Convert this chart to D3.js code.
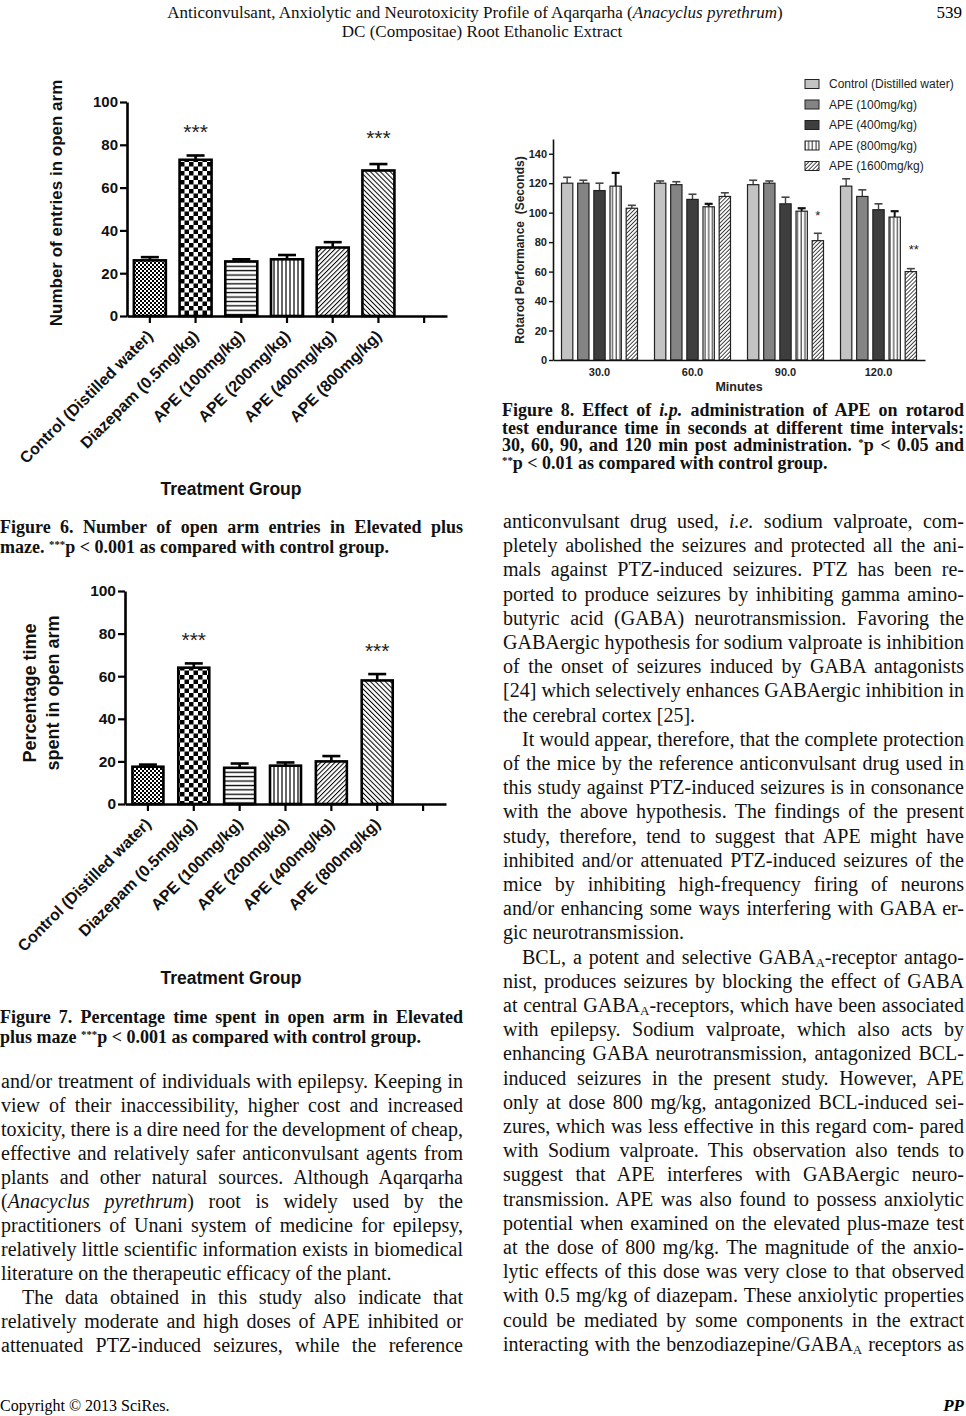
<!DOCTYPE html>
<html><head><meta charset="utf-8">
<script src="https://cdn.jsdelivr.net/npm/d3@7"></script>
<style>
html,body{margin:0;padding:0;background:#fff;}
svg{display:block;}
</style></head><body>
<svg id="page" width="966" height="1416"></svg>
<script>
// ---------------- DATA ----------------
const treatmentGroups = ["Control (Distilled water)","Diazepam (0.5mg/kg)","APE (100mg/kg)","APE (200mg/kg)","APE (400mg/kg)","APE (800mg/kg)"];
const yTicks100 = [0,20,40,60,80,100];
// Figure 6: number of open arm entries
const fig6Means = [26, 73, 25.5, 26.5, 32, 68];
const fig6Err   = [1.5, 2, 1, 2, 2.5, 3];
const fig6Stars = ["", "***", "", "", "", "***"];
const fig6StarAt = [0, 88, 0, 0, 0, 85];
// Figure 7: percentage time spent in open arm
const fig7Means = [17.5, 64, 17, 18, 20, 58];
const fig7Err   = [1, 2, 2, 1.5, 2.5, 3];
const fig7Stars = ["", "***", "", "", "", "***"];
const fig7StarAt = [0, 79, 0, 0, 0, 73.5];
// Figure 8: rotarod performance
const fig8Times  = ["30.0","60.0","90.0","120.0"];
const fig8Series = ["Control (Distilled water)","APE (100mg/kg)","APE (400mg/kg)","APE (800mg/kg)","APE (1600mg/kg)"];
const fig8Control = [120, 120, 119, 118];
const fig8APE100  = [120, 119, 120, 111];
const fig8APE400  = [115, 109, 106, 102];
const fig8APE800  = [118, 104, 101, 97];
const fig8APE1600 = [103, 111, 81, 60];
const fig8ErrControl = [4, 1.5, 3, 5];
const fig8Err100  = [2, 2, 1.5, 4.5];
const fig8Err400  = [5, 3.5, 4.5, 4];
const fig8Err800  = [9, 2, 2, 4];
const fig8Err1600 = [2, 2.5, 5, 2];
const fig8Stars = [{time:"90.0", series:4, label:"*", at:100},{time:"120.0", series:4, label:"**", at:77}];
const fig8Ticks = [0,20,40,60,80,100,120,140];

// ---------------- TEXT ----------------
const headerLines = ["Anticonvulsant, Anxiolytic and Neurotoxicity Profile of Aqarqarha (<i>Anacyclus pyrethrum</i>)","DC (Compositae) Root Ethanolic Extract"];
const pageNumber = "539";
const fig6Caption = ["Figure 6. Number of open arm entries in Elevated plus","maze. <sup>***</sup>p < 0.001 as compared with control group."];
const fig7Caption = ["Figure 7. Percentage time spent in open arm in Elevated","plus maze <sup>***</sup>p < 0.001 as compared with control group."];
const fig8Caption = ["Figure 8. Effect of <i>i.p.</i> administration of APE on rotarod","test endurance time in seconds at different time intervals:","30, 60, 90, and 120 min post administration. <sup>*</sup>p < 0.05 and","<sup>**</sup>p < 0.01 as compared with control group."];
const leftBody = [
 "and/or treatment of individuals with epilepsy. Keeping in",
 "view of their inaccessibility, higher cost and increased",
 "toxicity, there is a dire need for the development of cheap,",
 "effective and relatively safer anticonvulsant agents from",
 "plants and other natural sources. Although Aqarqarha",
 "(<i>Anacyclus pyrethrum</i>) root is widely used by the",
 "practitioners of Unani system of medicine for epilepsy,",
 "relatively little scientific information exists in biomedical",
 "literature on the therapeutic efficacy of the plant.|",
 ">The data obtained in this study also indicate that",
 "relatively moderate and high doses of APE inhibited or",
 "attenuated PTZ-induced seizures, while the reference"];
const rightBody = [
 "anticonvulsant drug used, <i>i.e.</i> sodium valproate, com-",
 "pletely abolished the seizures and protected all the ani-",
 "mals against PTZ-induced seizures. PTZ has been re-",
 "ported to produce seizures by inhibiting gamma amino-",
 "butyric acid (GABA) neurotransmission. Favoring the",
 "GABAergic hypothesis for sodium valproate is inhibition",
 "of the onset of seizures induced by GABA antagonists",
 "[24] which selectively enhances GABAergic inhibition in",
 "the cerebral cortex [25].|",
 ">It would appear, therefore, that the complete protection",
 "of the mice by the reference anticonvulsant drug used in",
 "this study against PTZ-induced seizures is in consonance",
 "with the above hypothesis. The findings of the present",
 "study, therefore, tend to suggest that APE might have",
 "inhibited and/or attenuated PTZ-induced seizures of the",
 "mice by inhibiting high-frequency firing of neurons",
 "and/or enhancing some ways interfering with GABA er-",
 "gic neurotransmission.|",
 ">BCL, a potent and selective GABA<sub>A</sub>-receptor antago-",
 "nist, produces seizures by blocking the effect of GABA",
 "at central GABA<sub>A</sub>-receptors, which have been associated",
 "with epilepsy. Sodium valproate, which also acts by",
 "enhancing GABA neurotransmission, antagonized BCL-",
 "induced seizures in the present study. However, APE",
 "only at dose 800 mg/kg, antagonized BCL-induced sei-",
 "zures, which was less effective in this regard com- pared",
 "with Sodium valproate. This observation also tends to",
 "suggest that APE interferes with GABAergic neuro-",
 "transmission. APE was also found to possess anxiolytic",
 "potential when examined on the elevated plus-maze test",
 "at the dose of 800 mg/kg. The magnitude of the anxio-",
 "lytic effects of this dose was very close to that observed",
 "with 0.5 mg/kg of diazepam. These anxiolytic properties",
 "could be mediated by some components in the extract",
 "interacting with the benzodiazepine/GABA<sub>A</sub> receptors as"];
const footerLeft = "Copyright © 2013 SciRes.";
const footerRight = "PP";

// ---------------- HELPERS ----------------
const SANS = "'Liberation Sans', Arial, sans-serif";
const SERIF = "'Liberation Serif', 'Times New Roman', serif";
const svg = d3.select("#page");
const defs = svg.append("defs");

function parseSegs(s){
  const re = /<(i|sub|sup)>(.*?)<\/\1>/g; const out=[]; let last=0, m;
  while((m = re.exec(s))){ if(m.index>last) out.push({t:s.slice(last,m.index)}); out.push({t:m[2],k:m[1]}); last = re.lastIndex; }
  if(last<s.length) out.push({t:s.slice(last)});
  return out;
}
function textLine(x, y, width, str, o){
  let justify = o.justify !== false, indent = 0;
  if(str.endsWith("|")){ justify=false; str=str.slice(0,-1); }
  if(str.startsWith(">")){ indent=o.indent||0; str=str.slice(1); }
  const segs = parseSegs(str);
  const t = svg.append("text").attr("x", x+indent).attr("y", y)
    .style("font-family", o.family).style("font-size", o.size+"px").style("font-weight", o.weight||"normal").attr("fill","#111");
  segs.forEach(sg=>{
    const ts = t.append("tspan").text(sg.t);
    if(sg.k==="i") ts.style("font-style","italic");
    if(sg.k==="sub") ts.attr("baseline-shift","-25%").style("font-size",(o.size*0.65)+"px");
    if(sg.k==="sup") ts.attr("baseline-shift","45%").style("font-size",(o.size*0.6)+"px");
  });
  if(justify){
    const nat = t.node().getComputedTextLength();
    const spaces = segs.reduce((a,sg)=>a+(sg.t.match(/ /g)||[]).length,0);
    if(spaces>0) t.style("word-spacing", ((width-indent-nat)/spaces)+"px");
  }
  return t;
}

// ---------------- PATTERNS ----------------
function pat(id, w, h, draw, transform){
  const p = defs.append("pattern").attr("id",id).attr("patternUnits","userSpaceOnUse").attr("width",w).attr("height",h);
  if(transform) p.attr("patternTransform",transform);
  p.append("rect").attr("width",w).attr("height",h).attr("fill","#fff");
  draw(p);
}
pat("p-fcheck",4,4,p=>{p.append("rect").attr("width",2).attr("height",2).attr("fill","#000");p.append("rect").attr("x",2).attr("y",2).attr("width",2).attr("height",2).attr("fill","#000");});
pat("p-bcheck",9,9,p=>{p.append("rect").attr("width",4.5).attr("height",4.5).attr("fill","#000");p.append("rect").attr("x",4.5).attr("y",4.5).attr("width",4.5).attr("height",4.5).attr("fill","#000");});
pat("p-hline",8,4.4,p=>{p.append("rect").attr("y",1.6).attr("width",8).attr("height",1.3).attr("fill","#000");});
pat("p-vline",4,8,p=>{p.append("rect").attr("x",1.4).attr("width",1.2).attr("height",8).attr("fill","#000");});
pat("p-diagR",3.3,8,p=>{p.append("rect").attr("width",1).attr("height",8).attr("fill","#000");},"rotate(45)");
pat("p-diagL",3.5,8,p=>{p.append("rect").attr("width",1).attr("height",8).attr("fill","#000");},"rotate(-45)");
pat("p-v8",3.7,8,p=>{p.append("rect").attr("x",1.5).attr("width",1).attr("height",8).attr("fill","#222");});
pat("p-d8",2.8,8,p=>{p.append("rect").attr("width",0.9).attr("height",8).attr("fill","#333");},"rotate(45)");
const barPatterns = ["p-fcheck","p-bcheck","p-hline","p-vline","p-diagR","p-diagL"];

// ---------------- HEADER / FOOTER ----------------
textLine(475, 18, 0, headerLines[0], {family:SERIF,size:17,justify:false}).attr("text-anchor","middle");
textLine(482, 37, 0, headerLines[1], {family:SERIF,size:17,justify:false}).attr("text-anchor","middle");
svg.append("text").attr("x",962).attr("y",18).attr("text-anchor","end").style("font-family",SERIF).style("font-size","17px").text(pageNumber);
svg.append("text").attr("x",0).attr("y",1411).style("font-family",SERIF).style("font-size","16px").text(footerLeft);
svg.append("text").attr("x",964).attr("y",1411).attr("text-anchor","end").style("font-family",SERIF).style("font-size","17px").style("font-weight","bold").style("font-style","italic").text(footerRight);

// ---------------- BAR PANEL (Fig 6 / 7) ----------------
function barPanel(cfg){
  const g = svg.append("g");
  const x = d3.scaleBand().domain(d3.range(treatmentGroups.length+1)).range([cfg.x0, cfg.x1]);
  const y = d3.scaleLinear().domain([0,100]).range([cfg.y0, cfg.yTop]);
  const cx = i => x(i)+x.bandwidth()/2;
  const data = cfg.means.map((m,i)=>({m, e:cfg.err[i], i, s:cfg.stars[i], sa:cfg.starAt[i]}));
  // error bars
  g.selectAll("line.eb").data(data).join("line").attr("x1",d=>cx(d.i)).attr("x2",d=>cx(d.i))
    .attr("y1",d=>y(d.m)).attr("y2",d=>y(d.m+d.e)).attr("stroke","#000").attr("stroke-width",2.6);
  g.selectAll("line.cap").data(data).join("line").attr("x1",d=>cx(d.i)-9).attr("x2",d=>cx(d.i)+9)
    .attr("y1",d=>y(d.m+d.e)).attr("y2",d=>y(d.m+d.e)).attr("stroke","#000").attr("stroke-width",2.6);
  // bars
  g.selectAll("rect.bar").data(data).join("rect")
    .attr("x",d=>cx(d.i)-cfg.bw/2).attr("width",cfg.bw)
    .attr("y",d=>y(d.m)).attr("height",d=>y(0)-y(d.m))
    .attr("fill",d=>`url(#${barPatterns[d.i]})`).attr("stroke","#000").attr("stroke-width",2.6);
  // stars
  g.selectAll("text.star").data(data.filter(d=>d.s)).join("text")
    .attr("x",d=>cx(d.i)).attr("y",d=>y(d.sa)+11).attr("text-anchor","middle")
    .style("font-family",SANS).style("font-size","21px").attr("fill","#222").text(d=>d.s);
  // y axis
  const ya = g.append("g").attr("transform",`translate(${cfg.x0},0)`)
    .call(d3.axisLeft(y).tickValues(yTicks100).tickSize(7).tickSizeOuter(0).tickPadding(2));
  ya.select(".domain").attr("stroke-width",2.6).attr("stroke","#000");
  ya.selectAll(".tick line").attr("stroke-width",2.2).attr("stroke","#000");
  ya.selectAll("text").style("font-family",SANS).style("font-size",cfg.tickSize+"px").style("font-weight","bold").attr("fill","#111");
  // x axis
  const xa = g.append("g").attr("transform",`translate(0,${cfg.y0})`)
    .call(d3.axisBottom(x).tickSize(7).tickSizeOuter(0).tickFormat(""));
  xa.select(".domain").attr("stroke-width",2.6).attr("stroke","#000");
  xa.selectAll(".tick line").attr("stroke-width",2.2).attr("stroke","#000");
  // rotated category labels
  g.selectAll("text.cat").data(treatmentGroups).join("text")
    .attr("transform",(d,i)=>`translate(${cx(i)+4},${cfg.y0+21}) rotate(-45)`)
    .attr("text-anchor","end").style("font-family",SANS).style("font-size","16px").style("font-weight","bold").attr("fill","#111").text(d=>d);
  // x title
  g.append("text").attr("x",cfg.titleX).attr("y",cfg.titleY).attr("text-anchor","middle")
    .style("font-family",SANS).style("font-size","17.5px").style("font-weight","bold").attr("fill","#111").text("Treatment Group");
  // y title
  cfg.yLabel.forEach((lbl,k)=>{
    g.append("text").attr("transform",`translate(${cfg.yLabelX[k]},${cfg.yLabelY}) rotate(-90)`).attr("text-anchor","middle")
      .style("font-family",SANS).style("font-size",cfg.yLabelSize+"px").style("font-weight","bold").attr("fill","#111").text(lbl);
  });
}

barPanel({x0:127,x1:447,y0:316,yTop:102,bw:32,means:fig6Means,err:fig6Err,stars:fig6Stars,starAt:fig6StarAt,
  tickSize:15,titleX:231,titleY:495,yLabel:["Number of entries in open arm"],yLabelX:[62],yLabelY:203,yLabelSize:17});
barPanel({x0:125,x1:446,y0:804,yTop:591,bw:31,means:fig7Means,err:fig7Err,stars:fig7Stars,starAt:fig7StarAt,
  tickSize:15.5,titleX:231,titleY:984,yLabel:["Percentage time","spent in open arm"],yLabelX:[36,59],yLabelY:693,yLabelSize:18});

// captions
fig6Caption.forEach((l,i)=>textLine(0, 533+20*i, 463, i===fig6Caption.length-1? l+"|":l, {family:SERIF,size:18,weight:"bold"}));
fig7Caption.forEach((l,i)=>textLine(0, 1023+20*i, 463, i===fig7Caption.length-1? l+"|":l, {family:SERIF,size:18,weight:"bold"}));
fig8Caption.forEach((l,i)=>textLine(502, 416+17.7*i, 462, i===fig8Caption.length-1? l+"|":l, {family:SERIF,size:18,weight:"bold"}));

// body text
leftBody.forEach((l,i)=>textLine(1, 1088+24*i, 462, l, {family:SERIF,size:20,indent:21}));
rightBody.forEach((l,i)=>textLine(503, 528+24.2*i, 461, l, {family:SERIF,size:20,indent:19}));

// ---------------- FIGURE 8 ----------------
(function(){
  const g = svg.append("g");
  const x0 = d3.scaleBand().domain(fig8Times).range([553,925]);
  const x1 = d3.scaleBand().domain(d3.range(fig8Series.length)).range([-38,38]).paddingInner(0.3);
  const y = d3.scaleLinear().domain([0,150]).range([360,139]);
  const vals = [fig8Control, fig8APE100, fig8APE400, fig8APE800, fig8APE1600];
  const errs = [fig8ErrControl, fig8Err100, fig8Err400, fig8Err800, fig8Err1600];
  const fills = ["#c3c3c3","#848484","#3e3e3e","url(#p-v8)","url(#p-d8)"];
  const rows = [];
  fig8Times.forEach((t,i)=>fig8Series.forEach((s,j)=>rows.push({t, j, v:vals[j][i], e:errs[j][i]})));
  const bx = d => x0(d.t)+x0.bandwidth()/2 + x1(d.j);
  const bc = d => bx(d)+x1.bandwidth()/2;
  g.selectAll("line.eb").data(rows).join("line").attr("x1",bc).attr("x2",bc).attr("y1",d=>y(d.v)).attr("y2",d=>y(d.v+d.e))
    .attr("stroke",d=>d.j===3?"#111":"#444").attr("stroke-width",d=>d.j===3?2:1.4);
  g.selectAll("line.cap").data(rows).join("line").attr("x1",d=>bc(d)-4).attr("x2",d=>bc(d)+4).attr("y1",d=>y(d.v+d.e)).attr("y2",d=>y(d.v+d.e))
    .attr("stroke",d=>d.j===3?"#111":"#444").attr("stroke-width",d=>d.j===3?2.2:1.6);
  g.selectAll("rect.bar").data(rows).join("rect").attr("x",bx).attr("width",x1.bandwidth())
    .attr("y",d=>y(d.v)).attr("height",d=>y(0)-y(d.v)).attr("fill",d=>fills[d.j]).attr("stroke","#222").attr("stroke-width",1.2);
  // stars
  g.selectAll("text.star").data(fig8Stars).join("text")
    .attr("x",d=>x0(d.time)+x0.bandwidth()/2+x1(d.series)+x1.bandwidth()/2+(d.label.length>1?3:0)).attr("y",d=>y(d.at)+7)
    .attr("text-anchor","middle").style("font-family",SANS).style("font-size","13px").attr("fill","#222").text(d=>d.label);
  // axes
  const ya = g.append("g").attr("transform","translate(553,0)").call(d3.axisLeft(y).tickValues(fig8Ticks).tickSize(4).tickSizeOuter(0).tickPadding(2));
  ya.select(".domain").attr("stroke","#111").attr("stroke-width",1.6);
  ya.selectAll(".tick line").attr("stroke","#111").attr("stroke-width",1.4);
  ya.selectAll("text").style("font-family",SANS).style("font-size","11px").style("font-weight","bold").attr("fill","#222");
  const xa = g.append("g").attr("transform","translate(0,360)").call(d3.axisBottom(x0).tickSize(0).tickSizeOuter(0).tickPadding(8));
  xa.select(".domain").attr("stroke","#111").attr("stroke-width",1.6);
  xa.selectAll("text").style("font-family",SANS).style("font-size","11px").style("font-weight","bold").attr("fill","#222");
  g.append("text").attr("x",739).attr("y",391).attr("text-anchor","middle").style("font-family",SANS).style("font-size","12.5px").style("font-weight","bold").attr("fill","#222").text("Minutes");
  g.append("text").attr("transform","translate(524,250) rotate(-90)").attr("text-anchor","middle").style("font-family",SANS).style("font-size","12px").style("font-weight","bold").attr("fill","#222").attr("xml:space","preserve").text("Rotarod Performance  (Seconds)");
  // legend
  const lg = g.append("g");
  fig8Series.forEach((s,j)=>{
    const cy = 84 + 20.5*j;
    lg.append("rect").attr("x",805).attr("y",cy-4.5).attr("width",14).attr("height",9).attr("fill",fills[j]).attr("stroke","#222").attr("stroke-width",1);
    lg.append("text").attr("x",829).attr("y",cy+4).style("font-family",SANS).style("font-size","12px").attr("fill","#222").text(s);
  });
})();
</script>
</body></html>
